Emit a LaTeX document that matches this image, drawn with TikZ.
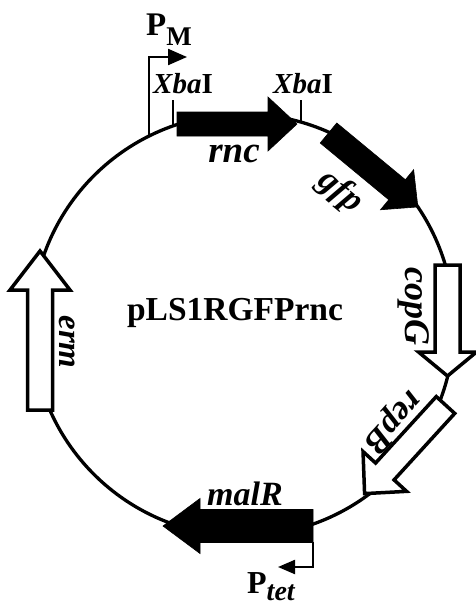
\documentclass[tikz,border=0pt]{standalone}
\usepackage{fontspec}
\setmainfont{Liberation Serif}
\usetikzlibrary{arrows.meta}

% gene arrow: style, start, direction (clockwise from east), body length,
% head length, body half-width, head half-width
\newcommand\genearrow[7]{%
  \begin{scope}[shift={#2}, rotate=-#3]
    \draw[#1] (0,-#6) -- (#4,-#6) -- (#4,-#7) -- ({#4+#5},0)
      -- (#4,#7) -- (#4,#6) -- (0,#6) -- cycle;
  \end{scope}}

\newcommand\labelsize[1]{\fontsize{#1}{#1}\selectfont}

\tikzset{
  plasmid/.style={line width=3.3pt},
  solidgene/.style={fill=black, draw=black, line width=0.6pt, line join=miter},
  opengene/.style={fill=white, draw=black, line width=3.5pt, line join=miter},
  genelabel/.style={font=\labelsize{35}\bfseries\itshape, inner sep=0pt},
  sitelabel/.style={font=\labelsize{29}\bfseries, inner sep=0pt, anchor=base},
  sitetick/.style={line width=2.2pt},
  promoter/.style={line width=2.2pt, -{Triangle[length=19pt,width=16pt]}},
}

\begin{document}
\begin{tikzpicture}[x=1pt,y=-1pt]
\useasboundingbox (0,0) rectangle (476,603);

% backbone
\coordinate (c) at (243,325);
\draw[plasmid] (c) circle[radius=211];

% genes
\genearrow{solidgene}{(177,124)}{0}{91}{29}{12}{27}        % rnc
\genearrow{solidgene}{(328.5,133)}{39.6}{89}{27}{13}{26}   % gfp
\genearrow{opengene}{(447.5,265)}{90}{87}{24}{12.5}{29}    % copG
\genearrow{opengene}{(445.5,405)}{132.4}{90}{30}{12.5}{29.5} % repB
\genearrow{solidgene}{(313,526)}{180}{113}{37}{16.5}{27.5} % malR
\genearrow{opengene}{(40,410)}{-90}{120}{39}{12.5}{30}     % erm

% XbaI sites
\coordinate (x1) at (173,126);
\coordinate (x2) at (301,122);
\draw[sitetick] (x1) -- ++(0,-26);
\draw[sitetick] (x2) -- ++(0,-22);
\node[sitelabel] (xbaA) at (183,93) {\textit{Xba}I};
\node[sitelabel] (xbaB) at (303,93) {\textit{Xba}I};

% promoters
\coordinate (pm) at (149,136);
\coordinate (pmtip) at (187,57);
\draw[promoter] (pm) |- (pmtip);
\node[font=\labelsize{33}\bfseries, inner sep=0pt, anchor=base west] (pmlab) at (146,35)
  {P\raisebox{-10pt}{\labelsize{27}M}};

\coordinate (pt) at (313,542);
\coordinate (pttip) at (278,567);
\draw[promoter, -{Triangle[length=17pt,width=14pt]}] (pt) |- (pttip);
\node[font=\labelsize{32}\bfseries, inner sep=0pt, anchor=base west] (ptlab) at (247,593)
  {P\raisebox{-7pt}{\labelsize{28}\itshape tet}};

% gene names
\node[genelabel, font=\labelsize{37}\bfseries\itshape, anchor=base] (rnc) at (234,162) {rnc};
\node[genelabel, rotate=-39.6] (gfp) at (340,192) {gfp};
\node[genelabel, font=\labelsize{36}\bfseries\itshape, rotate=-90] (copG) at (414,306) {copG};
\node[genelabel, rotate=228] (repB) at (392,421) {repB};
\node[genelabel, font=\labelsize{34}\bfseries\itshape, anchor=base] (malR) at (245,505) {malR};
\node[genelabel, font=\labelsize{33}\bfseries\itshape, rotate=-90] (erm) at (67,342) {erm};

% plasmid name
\node[font=\labelsize{33.5}\bfseries, inner sep=0pt, anchor=base] (pname) at (235,320) {pLS1RGFPrnc};
\end{tikzpicture}
\end{document}
